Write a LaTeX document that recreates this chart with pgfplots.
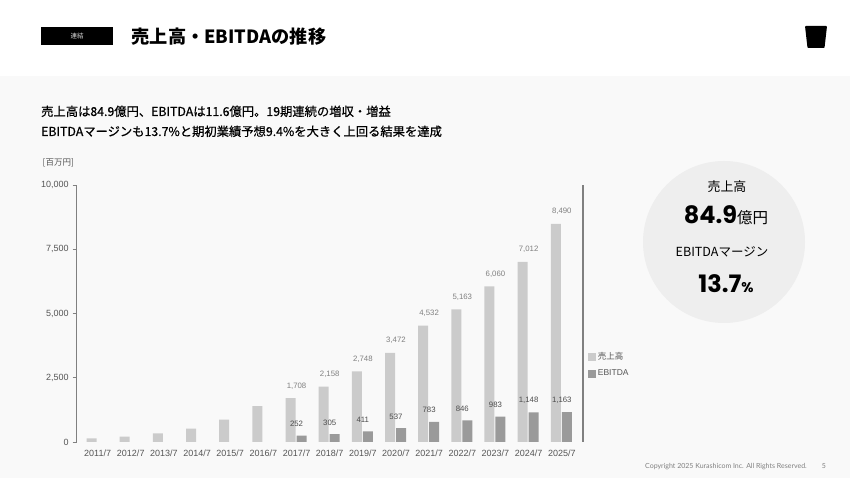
\documentclass[border=0pt]{standalone}
\usepackage{fontspec}
\setmainfont{Liberation Sans}
\newfontfamily\jp{Noto Sans CJK JP}
\newfontfamily\jpm[FakeBold=0.6]{Noto Sans CJK JP}
\newfontfamily\pop{Poppins}
\newfontfamily\lato{Lato}
\usepackage{pgfplots}
\pgfplotsset{compat=1.18}
\definecolor{bodybg}{HTML}{F9F9F9}
\definecolor{circ}{HTML}{EEEEEE}
\definecolor{revc}{HTML}{CBCBCB}
\definecolor{ebic}{HTML}{9A9A9A}
\definecolor{tickc}{HTML}{555555}
\pgfplotsset{
  mybar/.style={ybar, bar width=10pt, draw=none,
    legend image code/.code={\fill[##1] (0pt,-3.8pt) rectangle (7.7pt,3.8pt);}},
}
\begin{document}
\begin{tikzpicture}[x=1pt,y=1pt]
\fill[bodybg,use as bounding box] (0,0) rectangle (850,478);
\fill[white] (0,402) rectangle (850,478);
% header
\fill[black] (41,432.5) rectangle (113,451);
\node[text=white!85!black, inner sep=0] at (77,441.8) {\jp\fontsize{6.5}{7}\selectfont 連結};
\node[anchor=base west, inner sep=0] at (131.5,434.7) {\jp\bfseries\fontsize{18.2}{20}\selectfont 売上高・EBITDAの推移};
\fill[black, rounded corners=0.8pt] (805,452) -- (827,452) -- (824.5,430) -- (807.5,430) -- cycle;
% subtitle
\node[anchor=base west, inner sep=0] at (41,362) {\jpm\fontsize{12.3}{14}\selectfont 売上高は84.9億円、EBITDAは11.6億円。19期連続の増収・増益};
\node[anchor=base west, inner sep=0] at (41,342) {\jpm\fontsize{12.3}{14}\selectfont EBITDAマージンも13.7\%と期初業績予想9.4\%を大きく上回る結果を達成};
\node[anchor=west, inner sep=0, text=tickc] at (42.5,315) {\jp\fontsize{8.5}{9}\selectfont [百万円]};
% chart
\begin{axis}[
  at={(76.7pt,36pt)}, anchor=south west,
  scale only axis, width=506.3pt, height=257pt,
  xmin=-0.63, xmax=14.64, ymin=0, ymax=10000,
  axis y line*=left, axis x line*=bottom,
  axis line style={-},
  y axis line style={draw=gray, line width=0.8pt},
  x axis line style={draw=none},
  xtick={0,...,14},
  xticklabels={2011/7,2012/7,2013/7,2014/7,2015/7,2016/7,2017/7,2018/7,2019/7,2020/7,2021/7,2022/7,2023/7,2024/7,2025/7},
  x tick style={draw=none},
  ytick={0,2500,5000,7500,10000},
  y tick style={draw=gray, line width=0.8pt},
  tick align=outside, major tick length=4pt,
  scaled y ticks=false,
  /pgf/number format/1000 sep={,},
  /pgf/number format/assume math mode=true,
  ticklabel style={font=\fontsize{9}{10}\selectfont, text=tickc},
  y tick label style={xshift=-0.5pt},
  every node near coord/.append style={font=\fontsize{7.8}{8}\selectfont, yshift=5.5pt},
  legend style={at={(1,0.3)}, anchor=west, xshift=2pt, draw=none, fill=none,
    font=\fontsize{8.5}{9}\selectfont, text=tickc, row sep=5pt},
  legend cell align=left,
  clip=false,
]
\addplot[mybar, bar shift=-6pt, fill=revc] coordinates {(0,145)(1,206)(2,340)(3,520)(4,870)(5,1400)};
\addlegendentry{\jp 売上高}
\addplot[mybar, bar shift=-6pt, fill=revc, forget plot,
  nodes near coords={\pgfmathprintnumber[1000 sep={,}, assume math mode=true]{\pgfplotspointmeta}},
  every node near coord/.append style={text=gray}]
  coordinates {(6,1708)(7,2158)(8,2748)(9,3472)(10,4532)(11,5163)(12,6060)(13,7012)(14,8490)};
\addplot[mybar, bar shift=5pt, fill=ebic,
  nodes near coords={\pgfmathprintnumber[1000 sep={,}, assume math mode=true]{\pgfplotspointmeta}},
  every node near coord/.append style={text=black!70}]
  coordinates {(6,252)(7,305)(8,411)(9,537)(10,783)(11,846)(12,983)(13,1148)(14,1163)};
\addlegendentry{EBITDA}
\end{axis}
\draw[gray, line width=1.2pt] (583,36) -- (583,293);
% circle
\fill[circ] (724,236) circle (81);
\node[inner sep=0] at (727,291.3) {\jp\fontsize{12.9}{14}\selectfont 売上高};
\node[anchor=base, inner sep=0] at (726,254.7) {\pop\bfseries\fontsize{24}{26}\selectfont 84.9\jp\mdseries\fontsize{15.5}{16}\selectfont 億円};
\node[inner sep=0] at (722,226.3) {\jp\fontsize{12.5}{14}\selectfont EBITDAマージン};
\node[anchor=base, inner sep=0] at (726,185.3) {\pop\bfseries\fontsize{24}{26}\selectfont 13.7\fontsize{14}{15}\selectfont\%};
% footer
\node[anchor=west, inner sep=0, text=gray] at (645,11.5) {\lato\fontsize{7}{8}\selectfont Copyright 2025 Kurashicom Inc. All Rights Reserved.};
\node[inner sep=0, text=gray] at (824,11.5) {\lato\fontsize{7}{8}\selectfont 5};
\end{tikzpicture}
\end{document}
